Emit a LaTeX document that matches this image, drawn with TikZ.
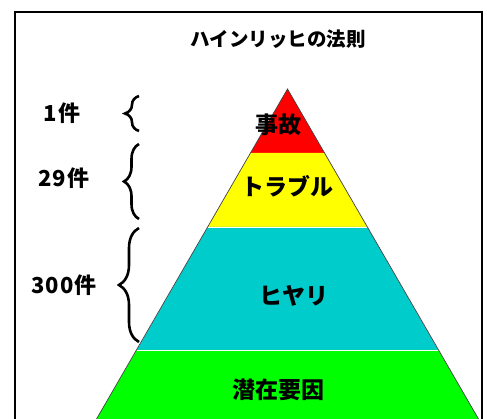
\documentclass[tikz,border=0pt]{standalone}
\usepackage{fontspec}
\newfontfamily\jp{Noto Sans CJK JP}
\usetikzlibrary{decorations.pathreplacing}
\definecolor{pyred}{RGB}{255,0,0}
\definecolor{pyyellow}{RGB}{255,255,0}
\definecolor{pycyan}{RGB}{0,204,204}
\definecolor{pygreen}{RGB}{0,255,0}
\tikzset{
  frameline/.style={line width=2.6pt,black},
  sideline/.style={line width=0.7pt,black!75},
  sepline/.style={line width=0.8pt,white},
  bandtext/.style={inner sep=0pt,font=\jp\bfseries\fontsize{23}{23}\selectfont},
  countlabel/.style={inner sep=0pt,font=\jp\bfseries\fontsize{22}{22}\selectfont\addfontfeature{LetterSpace=5}},
  titletext/.style={inner sep=0pt,font=\jp\bfseries\fontsize{19.5}{19.5}\selectfont},
  bracestyle/.style={line width=2.6pt,black,decorate,decoration={brace,amplitude=#1,aspect=0.5}},
  bracestyle/.default=15pt,
}
\begin{document}
\begin{tikzpicture}[x=1pt,y=-1pt]
\useasboundingbox (0,0) rectangle (487,419);
\begin{scope}
\clip (0,0) rectangle (487,419);
% bands
\fill[pyred] (287.5,89) -- (324.5,153) -- (250.5,153) -- cycle;
\fill[pyyellow] (250.5,153) -- (324.5,153) -- (367.2,227) -- (207.8,227) -- cycle;
\fill[pycyan] (207.8,227) -- (367.2,227) -- (438.2,350) -- (136.8,350) -- cycle;
\fill[pygreen] (136.8,350) -- (438.2,350) -- (478.5,419) -- (96.5,419) -- cycle;
\draw[sepline] (207.8,227) -- (367.2,227);
\draw[sepline] (136.8,350) -- (438.2,350);
\draw[sideline] (96.5,419) -- (287.5,89) -- (478.5,419);
% frame
\coordinate (fbl) at (15,425);
\coordinate (ftl) at (15,12);
\coordinate (ftr) at (482,12);
\coordinate (fbr) at (482,425);
\draw[frameline] (fbl) -- (ftl) -- (ftr) -- (fbr);
\end{scope}
% title
\node[titletext] (title) at (278,39) {ハインリッヒの法則};
% band labels
\node[bandtext] (jiko) at (278,125) {事故};
\node[bandtext] (trouble) at (287,186) {トラブル};
\node[bandtext] (hiyari) at (294,296) {ヒヤリ};
\node[bandtext] (senzai) at (278,390) {潜在要因};
% counts
\node[countlabel] (c1) at (62,113) {1件};
\node[countlabel] (c29) at (64,178) {29件};
\node[countlabel] (c300) at (64,285) {300件};
% braces
\coordinate (b1t) at (139,96);
\coordinate (b1b) at (139,131);
\coordinate (b2t) at (139,144);
\coordinate (b2b) at (139,219);
\coordinate (b3t) at (139,228);
\coordinate (b3b) at (139,342);
\draw[bracestyle=14pt] (b1b) -- (b1t);
\draw[bracestyle=15pt] (b2b) -- (b2t);
\draw[bracestyle=20pt] (b3b) -- (b3t);
\end{tikzpicture}
\end{document}
